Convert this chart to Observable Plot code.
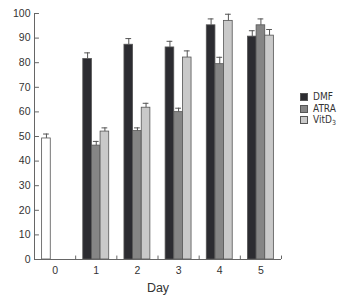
<!DOCTYPE html>
<html><head><meta charset="utf-8">
<script src="https://cdn.jsdelivr.net/npm/d3@7"></script>
<script src="https://cdn.jsdelivr.net/npm/@observablehq/plot@0.6"></script>
<style>
body{margin:0;background:#fff;}
#wrap{position:relative;width:337px;height:296px;font-family:"Liberation Sans",Arial,sans-serif;}
#legend{position:absolute;left:300px;top:91px;font-family:"Liberation Sans Narrow","DejaVu Sans Condensed",sans-serif;font-size:10px;color:#333;line-height:10px;white-space:nowrap;width:37px;}
#legend .row{display:flex;align-items:center;height:11.7px;}
#legend .sw{flex:none;width:6px;height:6px;border:1px solid #555;margin-right:5px;}
#legend sub{font-size:7px;vertical-align:baseline;position:relative;top:2px;line-height:0;}
svg [aria-label="x-axis label"] text{font-size:12.5px;}
</style></head>
<body><div id="wrap"><div id="legend"></div></div>
<script>
const days = [0, 1, 2, 3, 4, 5];
const series = ["DMF", "ATRA", "VitD3"];
const seriesLabels = ["DMF", "ATRA", "VitD<sub>3</sub>"];
const yTicks = [0, 10, 20, 30, 40, 50, 60, 70, 80, 90, 100];
const controlValue = 49.2, controlErr = 51;
const dmf = [81.5, 87.3, 86.2, 95.2, 90.6];
const dmfErr = [84, 89.8, 88.7, 97.8, 93];
const atra = [46.3, 52.2, 59.9, 79.4, 95.2];
const atraErr = [48, 53.5, 61.5, 82.2, 97.8];
const vitd = [52, 61.7, 82.1, 97, 91];
const vitdErr = [53.5, 63.5, 84.8, 99.7, 93.5];
const colors = ["#ffffff", "#2c2c31", "#858585", "#c9c9c9"];

const vals = {DMF: dmf, ATRA: atra, VitD3: vitd};
const errs = {DMF: dmfErr, ATRA: atraErr, VitD3: vitdErr};
const rows = [{day: 0, series: "Control", slot: 0, value: controlValue, err: controlErr}];
days.slice(1).forEach((d, i) => series.forEach((s, j) =>
  rows.push({day: d, series: s, slot: j, value: vals[s][i], err: errs[s][i]})));

const barW = 0.21, capW = 0.07;
const xc = d => d.day + (d.slot - 1) * barW;
const xMin = d3.min(days) - 0.5, xMax = d3.max(days) + 0.5;
const bounds = days.map(d => d + 0.5);
const line = "#666";

const chart = Plot.plot({
  width: 337, height: 296,
  marginLeft: 34, marginRight: 56, marginTop: 13, marginBottom: 37,
  style: {fontFamily: "Liberation Sans, Arial, sans-serif", fontSize: "10.5px", color: "#333", background: "white"},
  x: {domain: [xMin, xMax]},
  y: {domain: [0, 100]},
  color: {domain: ["Control", ...series], range: colors},
  marks: [
    Plot.rect(rows, {x1: d => xc(d) - barW / 2, x2: d => xc(d) + barW / 2, y1: 0, y2: "value", fill: "series", stroke: "#555", strokeWidth: 0.8}),
    Plot.ruleX(rows, {x: xc, y1: "value", y2: "err", stroke: "#555"}),
    Plot.ruleY(rows, {y: "err", x1: d => xc(d) - capW, x2: d => xc(d) + capW, stroke: "#555"}),
    Plot.ruleX([xMin], {y1: 0, y2: 100, stroke: line}),
    Plot.ruleY(yTicks, {x1: xMin, x2: xMin + 0.12, stroke: line}),
    Plot.ruleY([0], {x1: xMin, x2: xMax, stroke: line}),
    Plot.ruleX(bounds, {y1: 0, y2: 1.4, stroke: line}),
    Plot.axisY({ticks: yTicks, tickSize: 0, tickPadding: 4, label: null}),
    Plot.axisX({ticks: days, tickFormat: d3.format("d"), tickSize: 0, tickPadding: 7, label: "Day", labelAnchor: "center", labelArrow: "none", labelOffset: 32})
  ]
});
document.getElementById("wrap").prepend(chart);

const legend = document.getElementById("legend");
series.forEach((s, i) => {
  const row = document.createElement("div");
  row.className = "row";
  row.innerHTML = `<span class="sw" style="background:${colors[i + 1]}"></span><span>${seriesLabels[i]}</span>`;
  legend.appendChild(row);
});
</script></body></html>
